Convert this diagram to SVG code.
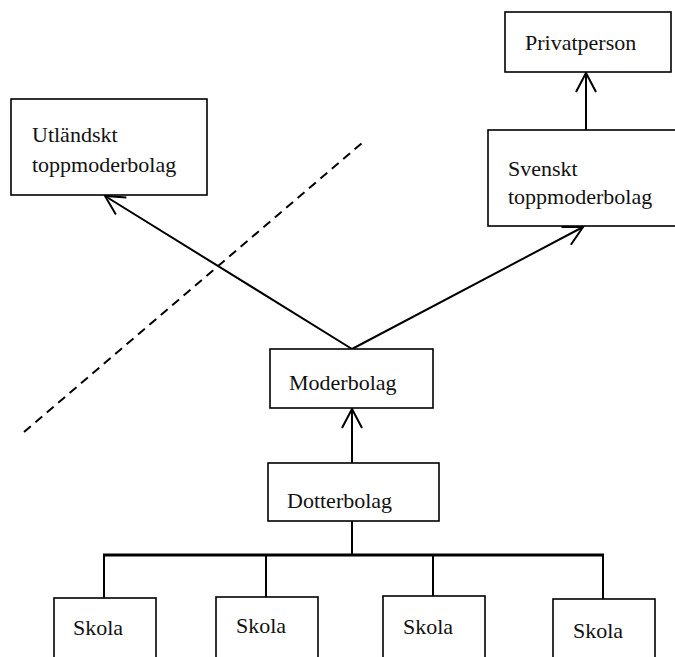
<svg xmlns="http://www.w3.org/2000/svg" width="675" height="657" viewBox="0 0 675 657">
<style>
.box{fill:#fff;stroke:#000;stroke-width:1.6}
.lbl{font-family:"Liberation Serif","Times New Roman",serif;font-size:22px;fill:#111}
.con{fill:none;stroke:#000;stroke-width:2}
.bar{fill:none;stroke:#000;stroke-width:3}
.dash{fill:none;stroke:#000;stroke-width:2;stroke-dasharray:9 6}
</style>
<defs>
<marker id="arr" markerUnits="userSpaceOnUse" markerWidth="30" markerHeight="30" refX="0" refY="0" viewBox="-24 -15 30 30" orient="auto" overflow="visible">
<path d="M-19,-10 L0,0 L-19,10" fill="none" stroke="#000" stroke-width="2"/>
</marker>
</defs>
<g id="connectors">
<line class="con" x1="352" y1="349" x2="105" y2="196" marker-end="url(#arr)"/>
<line class="con" x1="352" y1="349" x2="583" y2="227" marker-end="url(#arr)"/>
<line class="con" x1="586" y1="130" x2="586" y2="73" marker-end="url(#arr)"/>
<line class="con" x1="352" y1="463" x2="352" y2="409" marker-end="url(#arr)"/>
<line class="con" x1="352" y1="521" x2="352" y2="555"/>
<line class="bar" x1="103" y1="555" x2="604" y2="555"/>
<line class="con" x1="104" y1="555" x2="104" y2="598"/>
<line class="con" x1="266" y1="555" x2="266" y2="597"/>
<line class="con" x1="433" y1="555" x2="433" y2="596"/>
<line class="con" x1="603" y1="555" x2="603" y2="599"/>
</g>
<line id="divider" class="dash" x1="24" y1="432" x2="362" y2="143"/>
<g id="utlandskt">
<rect class="box" x="11" y="99" width="196" height="96"/>
<text class="lbl" x="32" y="142">Utländskt</text>
<text class="lbl" x="32" y="172">toppmoderbolag</text>
</g>
<g id="privatperson">
<rect class="box" x="505" y="12" width="166" height="60"/>
<text class="lbl" x="525" y="50">Privatperson</text>
</g>
<g id="svenskt">
<rect class="box" x="488" y="130" width="190" height="96"/>
<text class="lbl" x="508" y="176">Svenskt</text>
<text class="lbl" x="508" y="204">toppmoderbolag</text>
</g>
<g id="moderbolag">
<rect class="box" x="270" y="349" width="163" height="59"/>
<text class="lbl" x="289" y="390">Moderbolag</text>
</g>
<g id="dotterbolag">
<rect class="box" x="268" y="463" width="171" height="58"/>
<text class="lbl" x="287" y="508">Dotterbolag</text>
</g>
<g id="skola1">
<rect class="box" x="54" y="598" width="102" height="70"/>
<text class="lbl" x="73" y="635">Skola</text>
</g>
<g id="skola2">
<rect class="box" x="216" y="597" width="102" height="70"/>
<text class="lbl" x="236" y="633">Skola</text>
</g>
<g id="skola3">
<rect class="box" x="383" y="596" width="102" height="70"/>
<text class="lbl" x="403" y="634">Skola</text>
</g>
<g id="skola4">
<rect class="box" x="553" y="599" width="102" height="70"/>
<text class="lbl" x="573" y="638">Skola</text>
</g>
</svg>
